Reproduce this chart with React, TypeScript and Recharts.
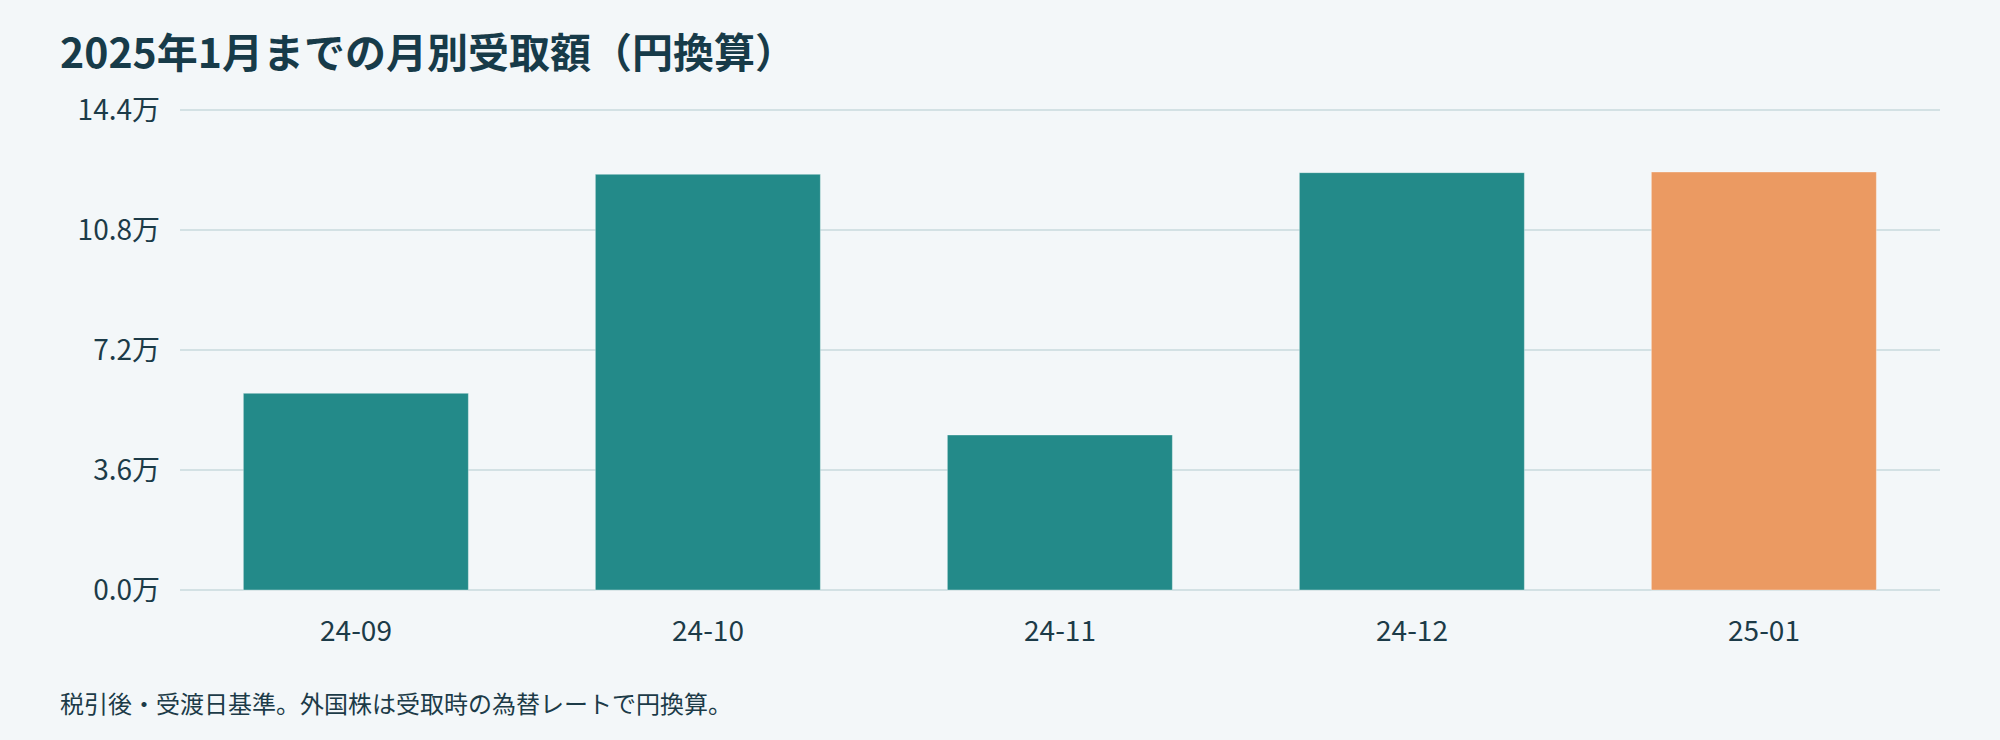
import React from "react";
import { BarChart, Bar, XAxis, YAxis, CartesianGrid, Cell } from "recharts";

const months = ["24-09", "24-10", "24-11", "24-12", "25-01"];
const amounts = [59000, 124700, 46500, 125200, 125400];
const yTicks = [0, 36000, 72000, 108000, 144000];
const highlightMonth = "25-01";

const data = months.map((m, i) => ({ month: m, amount: amounts[i] }));

const FONT = '"Noto Sans CJK JP", "Noto Sans", sans-serif';
const TEXT = "#1c3b48";

export default function App() {
  return (
    <div
      style={{
        position: "fixed",
        left: 0,
        top: 0,
        width: 2000,
        height: 740,
        background: "#f3f7f9",
        fontFamily: FONT,
        overflow: "hidden",
      }}
    >
      <div
        style={{
          position: "absolute",
          left: 60,
          top: 22,
          fontSize: 41,
          fontWeight: 700,
          color: "#173b49",
          lineHeight: "56px",
          whiteSpace: "nowrap",
        }}
      >
        2025年1月までの月別受取額（円換算）
      </div>
      <div style={{ position: "absolute", left: 0, top: 0 }}>
        <BarChart
          width={2000}
          height={740}
          data={data}
          margin={{ top: 110, right: 60, bottom: 90, left: 0 }}
          barCategoryGap="18%"
        >
          <CartesianGrid vertical={false} stroke="#d3e1e4" strokeWidth={2} />
          <XAxis
            dataKey="month"
            axisLine={false}
            tickLine={false}
            height={60}
            tickMargin={25}
            tick={{ fill: TEXT, fontSize: 28, fontFamily: FONT }}
          />
          <YAxis
            domain={[0, 144000]}
            ticks={yTicks}
            width={180}
            axisLine={false}
            tickLine={false}
            tickMargin={14}
            tick={{ fill: TEXT, fontSize: 28, fontFamily: FONT }}
            tickFormatter={(v: number) => (v / 10000).toFixed(1) + "万"}
          />
          <Bar dataKey="amount" isAnimationActive={false}>
            {data.map((d) => (
              <Cell
                key={d.month}
                fill={d.month === highlightMonth ? "#eb9a62" : "#238a89"}
                stroke="rgba(255,255,255,0.35)"
                strokeWidth={1}
              />
            ))}
          </Bar>
        </BarChart>
      </div>
      <div
        style={{
          position: "absolute",
          left: 60,
          top: 686,
          fontSize: 24,
          color: TEXT,
          lineHeight: "34px",
          whiteSpace: "nowrap",
        }}
      >
        税引後・受渡日基準。外国株は受取時の為替レートで円換算。
      </div>
    </div>
  );
}
